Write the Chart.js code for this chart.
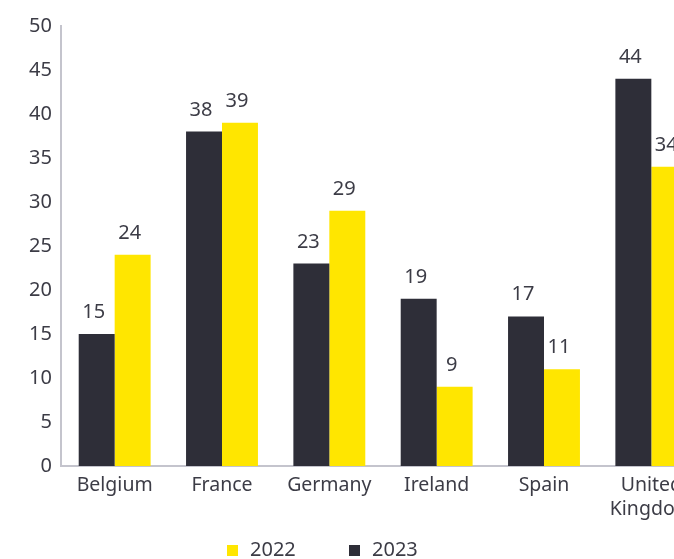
<!DOCTYPE html>
<html lang="en">
<head>
  <meta charset="UTF-8">
  <title>Country comparison 2022 vs 2023</title>
  <script src="https://cdn.jsdelivr.net/npm/chart.js"></script>
  <style>
    html, body { margin: 0; padding: 0; background: #fff; overflow: hidden; }
    .chart-wrap { position: relative; width: 712px; height: 559px; }
  </style>
</head>
<body>

<div class="chart-wrap">
  <canvas id="barChart"></canvas>
</div>

<script>
const countries = ['Belgium', 'France', 'Germany', 'Ireland', 'Spain', ['United', 'Kingdom']];
const values2023 = [15, 38, 23, 19, 17, 44];
const values2022 = [24, 39, 29, 9, 11, 34];

const TEXT = '#3c3c46';
const FONT = "'Noto Sans', sans-serif";

// write each bar's value just above it
const valueLabels = {
  id: 'valueLabels',
  afterDatasetsDraw(chart) {
    const ctx = chart.ctx;
    ctx.save();
    ctx.font = '20px ' + FONT;
    ctx.fillStyle = TEXT;
    ctx.textAlign = 'center';
    ctx.textBaseline = 'alphabetic';
    chart.data.datasets.forEach((ds, i) => {
      chart.getDatasetMeta(i).data.forEach((bar, j) => {
        ctx.fillText(ds.data[j], bar.x - 3, bar.y - 16);
      });
    });
    ctx.restore();
  }
};

// wide-spaced legend under the axis, 2022 first
const bottomLegend = {
  id: 'bottomLegend',
  afterDraw(chart) {
    const ctx = chart.ctx;
    const items = chart.data.datasets.slice().reverse();
    const starts = [227, 349];
    ctx.save();
    ctx.font = '20px ' + FONT;
    ctx.textBaseline = 'middle';
    ctx.textAlign = 'left';
    items.forEach((ds, i) => {
      ctx.fillStyle = ds.backgroundColor;
      ctx.fillRect(starts[i], 545, 11, 11);
      ctx.fillStyle = TEXT;
      ctx.fillText(ds.label, starts[i] + 23, 550);
    });
    ctx.restore();
  }
};

new Chart(document.getElementById('barChart'), {
  type: 'bar',
  data: {
    labels: countries,
    datasets: [
      { label: '2023', data: values2023, backgroundColor: '#2e2e38' },
      { label: '2022', data: values2022, backgroundColor: '#ffe600' }
    ]
  },
  options: {
    responsive: true,
    maintainAspectRatio: false,
    animation: false,
    layout: { padding: { top: 26, right: 7, left: 0, bottom: 38 } },
    datasets: { bar: { barPercentage: 1, categoryPercentage: 0.67 } },
    scales: {
      x: {
        grid: { display: false, drawTicks: false },
        border: { color: '#c4c4cd', width: 2 },
        ticks: { color: TEXT, font: { family: FONT, size: 19.5 }, maxRotation: 0, autoSkip: false, padding: 8 },
        afterFit: s => { s.height = 55; }
      },
      y: {
        min: 0, max: 50,
        grid: { display: false, drawTicks: false },
        border: { color: '#c4c4cd', width: 2 },
        ticks: { stepSize: 5, color: TEXT, font: { family: FONT, size: 20 }, padding: 9 },
        afterFit: s => { s.width = 61; }
      }
    },
    plugins: {
      legend: { display: false },
      tooltip: { enabled: false }
    }
  },
  plugins: [valueLabels, bottomLegend]
});
</script>

</body>
</html>
